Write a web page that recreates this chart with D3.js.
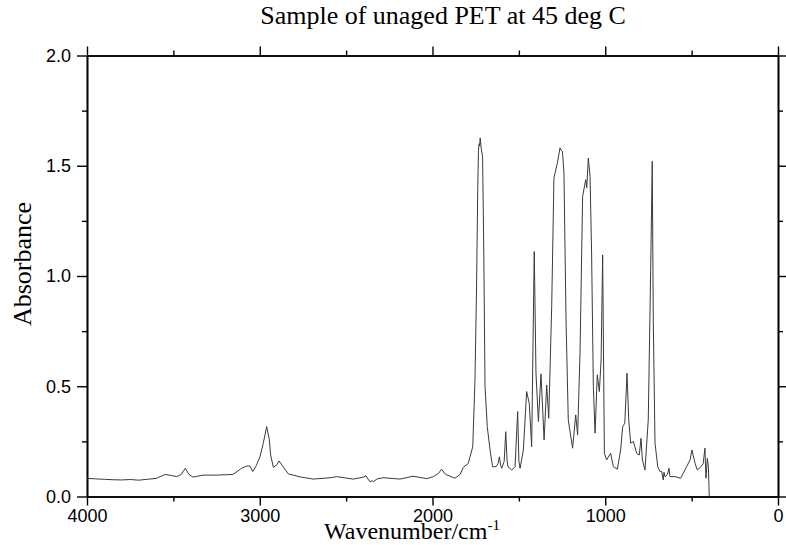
<!DOCTYPE html>
<html>
<head>
<meta charset="utf-8">
<script src="https://cdn.jsdelivr.net/npm/d3@7"></script>
<style>
  body { margin: 0; background: #fff; }
  svg { display: block; }
</style>
</head>
<body>
<div id="chart"></div>
<script>
// spectrum, wavenumber (cm-1) and absorbance
const wavenumber = [4000, 3950, 3900, 3850, 3800, 3750, 3700, 3650, 3600, 3548, 3510, 3481, 3455, 3431, 3410, 3386, 3328, 3250, 3155, 3105, 3076, 3056, 3041, 3020, 2999, 2980, 2960, 2945, 2937, 2921, 2900, 2888, 2860, 2834, 2760, 2690, 2593, 2555, 2458, 2400, 2385, 2370, 2362, 2350, 2343, 2320, 2285, 2188, 2113, 2033, 1995, 1965, 1947, 1930, 1918, 1870, 1840, 1822, 1793, 1767, 1754, 1745, 1738, 1734, 1730, 1727, 1724, 1718, 1710, 1703, 1696, 1683, 1665, 1652, 1632, 1620, 1613, 1605, 1599, 1585, 1576, 1568, 1563, 1541, 1522, 1507, 1500, 1493, 1474, 1455, 1440, 1426, 1411, 1401, 1387, 1372, 1354, 1339, 1327, 1310, 1297, 1277, 1262, 1255, 1248, 1239, 1227, 1214, 1189, 1171, 1160, 1146, 1131, 1113, 1107, 1098, 1088, 1079, 1069, 1059, 1046, 1034, 1024, 1015, 1005, 992, 969, 953, 930, 911, 899, 887, 874, 864, 853, 837, 818, 803, 793, 785, 770, 751, 737, 728, 722, 712, 696, 683, 673, 664, 660, 654, 640, 631, 625, 596, 563, 529, 509, 498, 480, 467, 446, 433, 423, 417, 409, 403, 398];
const absorbance = [0.082, 0.080, 0.078, 0.076, 0.075, 0.077, 0.074, 0.078, 0.082, 0.100, 0.095, 0.090, 0.100, 0.128, 0.100, 0.088, 0.097, 0.097, 0.100, 0.128, 0.138, 0.138, 0.113, 0.140, 0.180, 0.240, 0.317, 0.260, 0.188, 0.132, 0.145, 0.161, 0.130, 0.102, 0.088, 0.079, 0.085, 0.090, 0.079, 0.088, 0.094, 0.075, 0.067, 0.072, 0.067, 0.080, 0.085, 0.079, 0.092, 0.081, 0.090, 0.105, 0.124, 0.105, 0.098, 0.083, 0.100, 0.132, 0.150, 0.226, 0.530, 0.950, 1.400, 1.570, 1.600, 1.590, 1.626, 1.580, 1.540, 1.100, 0.500, 0.317, 0.200, 0.135, 0.135, 0.150, 0.180, 0.140, 0.128, 0.160, 0.294, 0.160, 0.135, 0.120, 0.135, 0.385, 0.160, 0.128, 0.211, 0.476, 0.423, 0.226, 1.111, 0.559, 0.340, 0.556, 0.257, 0.506, 0.355, 0.862, 1.445, 1.513, 1.581, 1.570, 1.566, 1.467, 0.800, 0.347, 0.219, 0.370, 0.279, 0.650, 1.361, 1.437, 1.400, 1.535, 1.452, 1.104, 0.500, 0.287, 0.552, 0.476, 0.620, 1.096, 0.196, 0.166, 0.196, 0.135, 0.124, 0.211, 0.317, 0.332, 0.559, 0.347, 0.242, 0.249, 0.196, 0.188, 0.264, 0.166, 0.120, 0.347, 1.028, 1.520, 0.800, 0.242, 0.135, 0.113, 0.113, 0.075, 0.110, 0.090, 0.100, 0.128, 0.090, 0.090, 0.083, 0.135, 0.166, 0.211, 0.150, 0.120, 0.135, 0.150, 0.219, 0.083, 0.173, 0.135, 0.0];

const xTicks = [4000, 3000, 2000, 1000, 0];
const xMinor = [3500, 2500, 1500, 500];
const yTicks = [0.0, 0.5, 1.0, 1.5, 2.0];
const yMinor = [0.25, 0.75, 1.25, 1.75];

const data = wavenumber.map((w, i) => ({ w: w, a: absorbance[i] }));

// chart dimensions
const width = 786;
const height = 545;
const marginTop = 55.5;
const marginRight = 8;
const marginBottom = 48.5;
const marginLeft = 87;

const x = d3.scaleLinear()
    .domain([4000, 0])
    .range([marginLeft, width - marginRight]);

const y = d3.scaleLinear()
    .domain([0, 2])
    .range([height - marginBottom, marginTop]);

const svg = d3.select("#chart")
    .append("svg")
    .attr("width", width)
    .attr("height", height)
    .attr("viewBox", [0, 0, width, height]);

const tickFont = "'Liberation Sans', Arial, sans-serif";
const serif = "'Liberation Serif', 'Times New Roman', serif";

// helper to style an axis group
function styleAxis(g) {
    g.select(".domain").attr("stroke", "#000").attr("stroke-width", 1.6);
    g.selectAll(".tick line").attr("stroke", "#000").attr("stroke-width", 1.4);
    g.selectAll("text").attr("fill", "#000")
        .style("font-family", tickFont).style("font-size", "18px");
}

// bottom axis, labelled
svg.append("g")
    .attr("transform", `translate(0,${y(0)})`)
    .call(d3.axisBottom(x).tickValues(xTicks).tickFormat(d3.format("d")).tickSize(9).tickPadding(4).tickSizeOuter(0))
    .call(styleAxis);
svg.append("g")
    .attr("transform", `translate(0,${y(0)})`)
    .call(d3.axisBottom(x).tickValues(xMinor).tickFormat("").tickSize(5).tickSizeOuter(0))
    .call(styleAxis);

// top axis
svg.append("g")
    .attr("transform", `translate(0,${y(2)})`)
    .call(d3.axisTop(x).tickValues(xTicks).tickFormat("").tickSize(9).tickSizeOuter(0))
    .call(styleAxis);
svg.append("g")
    .attr("transform", `translate(0,${y(2)})`)
    .call(d3.axisTop(x).tickValues(xMinor).tickFormat("").tickSize(5).tickSizeOuter(0))
    .call(styleAxis);

// left axis, labelled
svg.append("g")
    .attr("transform", `translate(${x(4000)},0)`)
    .call(d3.axisLeft(y).tickValues(yTicks).tickFormat(d3.format(".1f")).tickSize(10).tickPadding(6).tickSizeOuter(0))
    .call(styleAxis);
svg.append("g")
    .attr("transform", `translate(${x(4000)},0)`)
    .call(d3.axisLeft(y).tickValues(yMinor).tickFormat("").tickSize(5).tickSizeOuter(0))
    .call(styleAxis);

// right axis
svg.append("g")
    .attr("transform", `translate(${x(0)},0)`)
    .call(d3.axisRight(y).tickValues(yTicks).tickFormat("").tickSize(9).tickSizeOuter(0))
    .call(styleAxis);
svg.append("g")
    .attr("transform", `translate(${x(0)},0)`)
    .call(d3.axisRight(y).tickValues(yMinor).tickFormat("").tickSize(5).tickSizeOuter(0))
    .call(styleAxis);

// spectrum
const line = d3.line()
    .x(d => x(d.w))
    .y(d => y(d.a));

svg.append("path")
    .datum(data)
    .attr("fill", "none")
    .attr("stroke", "#3a3a3a")
    .attr("stroke-width", 1)
    .attr("stroke-linejoin", "round")
    .attr("d", line);

// title
svg.append("text")
    .attr("x", 443)
    .attr("y", 24)
    .attr("text-anchor", "middle")
    .style("font-family", serif)
    .style("font-size", "26px")
    .text("Sample of unaged PET at 45 deg C");

// y label
svg.append("text")
    .attr("transform", `translate(31,${264}) rotate(-90)`)
    .attr("text-anchor", "middle")
    .style("font-family", serif)
    .style("font-size", "26px")
    .text("Absorbance");

// x label with superscript
const xl = svg.append("text")
    .attr("x", 412)
    .attr("y", 539)
    .attr("text-anchor", "middle")
    .style("font-family", serif)
    .style("font-size", "24px");
xl.append("tspan").text("Wavenumber/cm");
xl.append("tspan").attr("dy", -9).style("font-size", "15px").text("-1");
</script>
</body>
</html>
